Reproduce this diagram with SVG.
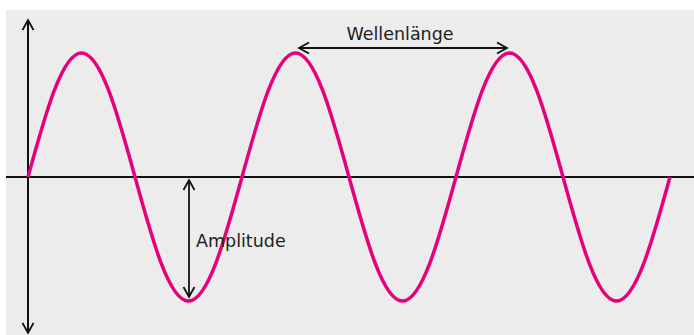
<svg xmlns="http://www.w3.org/2000/svg" width="694" height="335" viewBox="0 0 694 335">
<style>
.axis{stroke:#111;stroke-width:2;fill:none}
.dim{stroke:#111;stroke-width:1.8;fill:none}
.wave{stroke:#e6007e;stroke-width:3.5;fill:none;stroke-linejoin:round}
.lbl{font-family:"DejaVu Sans","Liberation Sans",sans-serif;font-size:17.5px;fill:#222}
</style>
<defs>
<marker id="arr" markerUnits="userSpaceOnUse" markerWidth="14" markerHeight="14" viewBox="-11 -7 14 14" refX="0" refY="0" orient="auto-start-reverse">
<path d="M-10,-5.5 L0,0 L-10,5.5" fill="none" stroke="#111" stroke-width="1.8"/>
</marker>
</defs>
<rect x="6" y="10" width="688" height="325" fill="#ececec"/>
<g id="connectors">
<line class="axis" x1="6" y1="177" x2="694" y2="177"/>
<line class="axis" x1="28" y1="333" x2="28" y2="20" marker-start="url(#arr)" marker-end="url(#arr)"/>
<line class="dim" x1="299" y1="48" x2="507" y2="48" marker-start="url(#arr)" marker-end="url(#arr)"/>
<line class="dim" x1="189" y1="180" x2="189" y2="297" marker-start="url(#arr)" marker-end="url(#arr)"/>
</g>
<g id="wave">
<path class="wave" d="M28,177 c17.45,-63.5 34.14,-124 53.5,-124 c19.36,0 36.05,60.5 53.5,124 c17.45,63.5 34.14,124 53.5,124 c19.36,0 36.05,-60.5 53.5,-124 c17.45,-63.5 34.14,-124 53.5,-124 c19.36,0 36.05,60.5 53.5,124 c17.45,63.5 34.14,124 53.5,124 c19.36,0 36.05,-60.5 53.5,-124 c17.45,-63.5 34.14,-124 53.5,-124 c19.36,0 36.05,60.5 53.5,124 c17.45,63.5 34.14,124 53.5,124 c19.36,0 36.05,-60.5 53.5,-124"/>
</g>
<g id="wellenlaenge">
<text class="lbl" x="400" y="40" text-anchor="middle">Wellenlänge</text>
</g>
<g id="amplitude">
<text class="lbl" x="196" y="247">Amplitude</text>
</g>
</svg>
